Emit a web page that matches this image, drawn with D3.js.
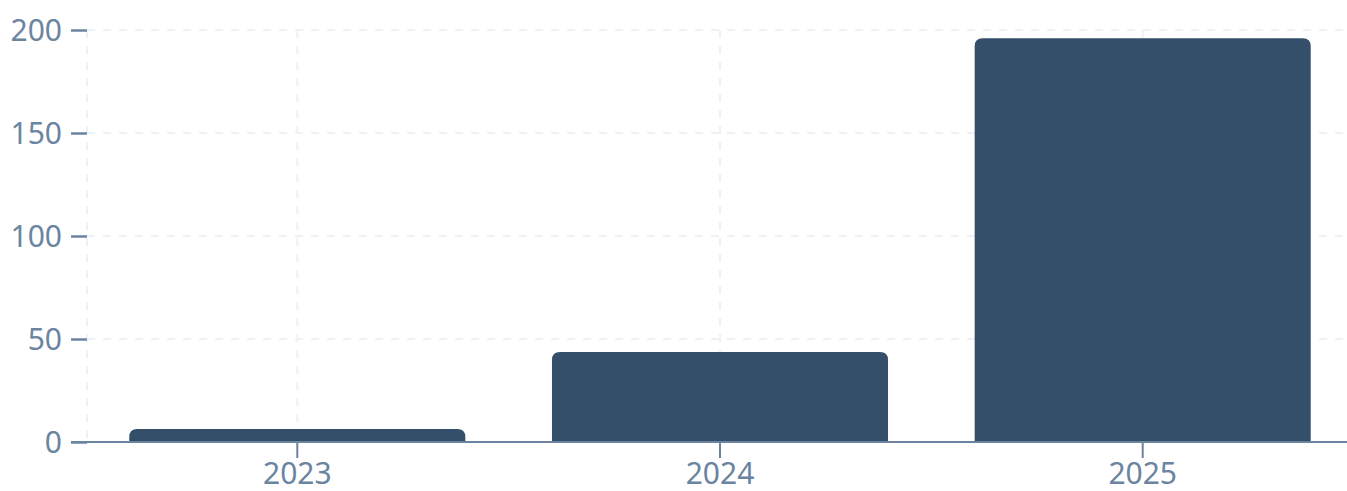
<!DOCTYPE html>
<html>
<head>
<meta charset="utf-8">
<script src="https://d3js.org/d3.v7.min.js"></script>
<style>
  body { margin: 0; background: #fff; }
  svg text { font-family: "Noto Sans", "Open Sans", sans-serif; }
</style>
</head>
<body>
<svg width="1347" height="491"></svg>
<script>
// data
const years = ["2023", "2024", "2025"];
const counts = [6.3, 43.7, 196];
const yTicks = [0, 50, 100, 150, 200];

const svg = d3.select("svg");
const mLeft = 87, mRight = 1353, mTop = 30, mBottom = 442;
const axisColor = "#6b84a0";
const gridColor = "#eef1f6";

var x = d3.scaleBand().domain(years).range([mLeft, mRight])
  .paddingInner(0.205).paddingOuter(0.1);
var y = d3.scaleLinear().domain([0, 200]).range([mBottom, mTop]);

// horizontal grid
svg.append("g").selectAll("line").data(yTicks).enter().append("line")
  .attr("x1", mLeft).attr("x2", 1347)
  .attr("y1", d => y(d)).attr("y2", d => y(d))
  .attr("stroke", gridColor).attr("stroke-width", 2)
  .attr("stroke-dasharray", "8,8");

// vertical grid at left edge and band centers
const vx = [mLeft].concat(years.map(d => x(d) + x.bandwidth() / 2));
svg.append("g").selectAll("line").data(vx).enter().append("line")
  .attr("x1", d => d).attr("x2", d => d)
  .attr("y1", mTop).attr("y2", mBottom)
  .attr("stroke", gridColor).attr("stroke-width", 2)
  .attr("stroke-dasharray", "8,8");

// bars with rounded top corners
function barPath(x0, w, yTop, yBase, r) {
  r = Math.min(r, (yBase - yTop), w / 2);
  return "M" + x0 + "," + yBase +
    "V" + (yTop + r) +
    "Q" + x0 + "," + yTop + " " + (x0 + r) + "," + yTop +
    "H" + (x0 + w - r) +
    "Q" + (x0 + w) + "," + yTop + " " + (x0 + w) + "," + (yTop + r) +
    "V" + yBase + "Z";
}
svg.append("g").selectAll("path").data(years).enter().append("path")
  .attr("d", (d, i) => barPath(x(d), x.bandwidth(), y(counts[i]), y(0), 8))
  .attr("fill", "#344f6a");

// y axis ticks + labels
const yAxis = svg.append("g").attr("transform", "translate(" + mLeft + ",0)")
  .call(d3.axisLeft(y).tickValues(yTicks).tickSize(16).tickPadding(9));
yAxis.select(".domain").remove();
yAxis.selectAll("line").attr("stroke", axisColor).attr("stroke-width", 2.5);
yAxis.selectAll("text").attr("fill", axisColor).style("font-size", "30px")
  .attr("dy", "0.35em");

// x axis
const xAxis = svg.append("g").attr("transform", "translate(0," + mBottom + ")")
  .call(d3.axisBottom(x).tickSize(16).tickPadding(5).tickSizeOuter(0));
xAxis.select(".domain").remove();
xAxis.selectAll("line").attr("stroke", axisColor).attr("stroke-width", 2);
xAxis.selectAll("text").attr("fill", axisColor).style("font-size", "30px");

svg.append("line")
  .attr("x1", 71).attr("x2", 1347)
  .attr("y1", mBottom).attr("y2", mBottom)
  .attr("stroke", axisColor).attr("stroke-width", 2);
</script>
</body>
</html>
